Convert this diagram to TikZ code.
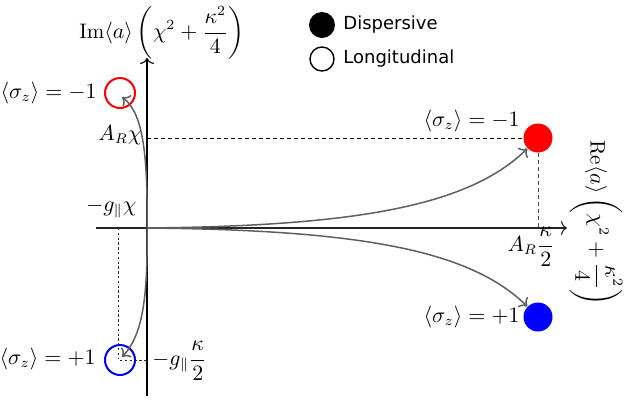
\documentclass[tikz,border=0pt]{standalone}
\usepackage{fontspec}
\usepackage{amsmath}
\newfontfamily\legfont{DejaVu Sans}
\usetikzlibrary{arrows.meta}
\definecolor{curvegrey}{HTML}{5F5F5F}
\tikzset{
  axis/.style={black!85, line width=0.55pt, -{To[length=3pt,width=7pt]}},
  garrow/.style={curvegrey, line width=0.75pt, -{To[length=3.5pt,width=7pt]}},
  dropline/.style={black, line width=0.45pt, dash pattern=on 2pt off 1.5pt},
  dropfine/.style={black!85, line width=0.45pt, dash pattern=on 1.2pt off 1.2pt},
  fullpt/.style={circle, inner sep=0pt, minimum size=14.5pt},
  hollowpt/.style={circle, inner sep=0pt, minimum size=15pt, line width=1pt},
  lbl/.style={inner sep=1pt, font=\fontsize{10.5}{12}\selectfont},
  leg/.style={inner sep=0pt, font=\legfont\fontsize{9}{11}\selectfont}
}
\begin{document}
\begin{tikzpicture}[x=0.5pt, y=-0.5pt]
\useasboundingbox (0,0) rectangle (628,403);

% axes
\coordinate (O) at (147,228);
\coordinate (xs) at (96,228);
\coordinate (xe) at (567,228);
\coordinate (ys) at (147,396);
\coordinate (ye) at (147,58);
\draw[axis] (xs) -- (xe);
\draw[axis, black] (ys) -- (ye);

% points
\node[fullpt, fill=red] (rf) at (538,138) {};
\node[fullpt, fill=blue] (bf) at (538,317) {};
\node[hollowpt, draw=red] (rh) at (120,93) {};
\node[hollowpt, draw=blue] (bh) at (120,360) {};

% drop lines
\coordinate (ax1) at (147,138);
\coordinate (ax2) at (538,228);
\coordinate (ax3) at (118,228);
\coordinate (bhc) at (118,358);
\coordinate (ax4) at (147,360);
\draw[dropline] (ax1) -- (rf.west);
\draw[dropline, black!70] (rf.south) -- (ax2);
\draw[dropfine] (ax3) -- (bhc);
\draw[dropfine] (bh.center) -- (ax4);

% curves
\draw[garrow] (O) .. controls (360,226) and (470,205) .. (rf);
\draw[garrow] (O) .. controls (360,230) and (470,250) .. (bf);
\draw[garrow] (O) .. controls (148,150) and (142,112) .. ([shift={(2,4)}]rh.center);
\draw[garrow] (O) .. controls (148,300) and (142,336) .. ([shift={(2,-3)}]bh.center);

% labels
\node[lbl, anchor=east] (l1) at (99,93) {$\langle\sigma_z\rangle = -1$};
\node[lbl, anchor=east] (l2) at (98,359) {$\langle\sigma_z\rangle = +1$};
\node[lbl, anchor=east] (l3) at (144,135) {$A_R\chi$};
\node[lbl, anchor=east] (l4) at (139,208) {$-g_\parallel\chi$};
\node[lbl, anchor=west] (l5) at (150,361) {$-g_\parallel\dfrac{\kappa}{2}$};
\node[lbl] (l6) at (531,247) {$A_R\dfrac{\kappa}{2}$};
\node[lbl, anchor=east] (l7) at (522,121) {$\langle\sigma_z\rangle = -1$};
\node[lbl, anchor=east] (l8) at (522,317) {$\langle\sigma_z\rangle = +1$};
\node[lbl] (ylab) at (162,33) {$\mathrm{Im}\langle a\rangle\displaystyle\left(\chi^2+\frac{\kappa^2}{4}\right)$};
\node[lbl, rotate=-90] (xlab) at (596,223) {$\mathrm{Re}\langle a\rangle\displaystyle\left(\chi^2+\frac{\kappa^2}{4}\right)$};

% legend
\node[circle, fill=black, inner sep=0pt, minimum size=13pt] (lg1) at (322,25) {};
\node[circle, draw=black, line width=0.7pt, inner sep=0pt, minimum size=12pt] (lg2) at (322,59) {};
\node[leg, anchor=west] (lt1) at (343,25) {Dispersive};
\node[leg, anchor=west] (lt2) at (343,59) {Longitudinal};
\end{tikzpicture}
\end{document}
